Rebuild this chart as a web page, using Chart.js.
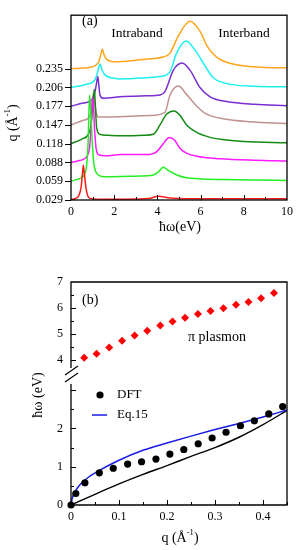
<!DOCTYPE html>
<html>
<head>
<meta charset="utf-8">
<script src="https://cdn.jsdelivr.net/npm/chart.js@4.4.0/dist/chart.umd.min.js"></script>
<style>
html, body { margin: 0; padding: 0; background: #fff; }
#wrap { position: relative; width: 299px; height: 550px; overflow: hidden; }
.box { position: absolute; left: 0; width: 299px; }
</style>
</head>
<body>
<div id="wrap">
  <div class="box" style="top:0;height:250px"><canvas id="c1" width="299" height="250"></canvas></div>
  <div class="box" style="top:250px;height:300px"><canvas id="c2" width="299" height="300"></canvas></div>
</div>
<script>
// ---- panel (a): loss spectra, one per q, stacked ----
var qLabels = ['0.029', '0.059', '0.088', '0.118', '0.147', '0.177', '0.206', '0.235'];
var curveColors = ['#ff1a1a', '#22ee22', '#ff1aff', '#138a13', '#c09290', '#7a2ed0', '#1ef0f0', '#ffa41c'];

// [energy eV, intensity above the curve's own baseline]
var spec029 = [[0,0.02],[0.2,0.08],[0.37,0.25],[0.47,0.7],[0.53,1.4],[0.57,1.85],[0.62,1.4],[0.69,0.67],[0.8,0.17],[1.0,0.06],[2,0.04],[3,0.05],[3.6,0.08],[4.05,0.2],[4.5,0.12],[5,0.08],[6,0.06],[8,0.06],[10,0.07]];
var spec059 = [[0,0],[0.3,0.1],[0.5,0.2],[0.62,0.35],[0.72,0.8],[0.79,2.0],[0.86,4.6],[0.92,3.6],[0.98,2.2],[1.05,1.0],[1.15,0.5],[1.3,0.3],[1.6,0.24],[2.3,0.25],[3.0,0.27],[3.8,0.33],[4.05,0.5],[4.27,0.75],[4.5,0.58],[4.9,0.33],[5.35,0.18],[6.1,0.12],[7,0.09],[8.5,0.06],[10,0.04]];
var spec088 = [[0,0],[0.3,0.08],[0.57,0.17],[0.75,0.35],[0.87,0.9],[0.94,2.2],[1.0,3.5],[1.05,2.8],[1.1,1.6],[1.17,0.7],[1.3,0.4],[1.6,0.36],[2.3,0.42],[3.5,0.42],[3.97,0.58],[4.27,1.0],[4.55,1.33],[4.81,1.17],[5.05,0.75],[5.35,0.5],[5.82,0.33],[6.9,0.2],[8.5,0.12],[10,0.08]];
var spec118 = [[0,0],[0.5,0.25],[0.8,0.5],[0.93,1.0],[1.02,2.2],[1.08,2.9],[1.13,2.0],[1.19,0.83],[1.34,0.5],[1.7,0.45],[2.3,0.42],[3.4,0.45],[3.81,0.5],[4.12,1.0],[4.43,1.58],[4.78,1.75],[5.05,1.5],[5.35,1.0],[5.82,0.6],[6.4,0.35],[7,0.22],[8,0.12],[10,0.05]];
var spec147 = [[0,0],[0.57,0.25],[0.88,0.5],[0.97,1.1],[1.03,1.67],[1.1,1.1],[1.18,0.6],[1.27,0.42],[1.73,0.42],[2.5,0.45],[3.66,0.5],[4.35,0.67],[4.58,1.58],[4.97,2.07],[5.35,1.63],[5.82,1.0],[6.28,0.58],[7.05,0.33],[8.29,0.17],[10,0.08]];
var spec177 = [[0,0],[0.57,0.17],[0.96,0.33],[1.1,0.7],[1.18,1.2],[1.24,1.58],[1.29,1.1],[1.34,0.6],[1.5,0.42],[2.27,0.5],[3.5,0.55],[4.12,0.6],[4.35,0.78],[4.74,1.92],[5.15,2.3],[5.51,1.92],[5.97,1.0],[6.44,0.5],[7.2,0.25],[8.5,0.1],[10,0.03]];
var spec206 = [[0,0],[0.72,0.17],[1.11,0.42],[1.25,0.9],[1.34,1.25],[1.45,0.9],[1.57,0.67],[1.96,0.5],[2.27,0.45],[3.5,0.52],[4.12,0.58],[4.58,0.83],[4.89,1.83],[5.32,2.47],[5.74,2.0],[6.28,1.0],[6.6,0.5],[7.5,0.15],[8.5,0.06],[10,0.03]];
var spec235 = [[0,0],[0.88,0.08],[1.27,0.33],[1.38,0.75],[1.45,1.03],[1.53,0.75],[1.65,0.5],[2.11,0.37],[3.0,0.45],[3.66,0.53],[4.27,0.62],[4.58,0.83],[4.97,1.75],[5.51,2.53],[5.97,2.0],[6.3,1.2],[6.75,0.6],[7.5,0.25],[8.75,0.08],[10,0.05]];
var spectra = [spec029, spec059, spec088, spec118, spec147, spec177, spec206, spec235];

// ---- panel (b): dispersion ----
var dftQ = [0, 0.010, 0.029, 0.059, 0.088, 0.118, 0.147, 0.177, 0.206, 0.235, 0.265, 0.294, 0.323, 0.353, 0.382, 0.412, 0.441];
var dftE = [0, 0.30, 0.58, 0.84, 0.96, 1.07, 1.13, 1.20, 1.33, 1.45, 1.60, 1.75, 1.90, 2.07, 2.20, 2.38, 2.57];
var piQ = [0.0275, 0.0532, 0.0795, 0.1064, 0.1326, 0.1589, 0.186, 0.2114, 0.2376, 0.2645, 0.2907, 0.3176, 0.3438, 0.3698, 0.3959, 0.4229];
var piE = [4.07, 4.23, 4.47, 4.73, 4.93, 5.12, 5.32, 5.47, 5.62, 5.76, 5.88, 5.99, 6.12, 6.23, 6.37, 6.58];
var eqQ = [0, 0.002, 0.005, 0.01, 0.02, 0.04, 0.06, 0.1, 0.15, 0.2, 0.25, 0.3, 0.35, 0.4, 0.45];
var eqE = [0, 0.15, 0.26, 0.38, 0.55, 0.76, 0.91, 1.17, 1.43, 1.62, 1.8, 1.97, 2.13, 2.3, 2.48];
var lineQ = [0, 0.05, 0.1, 0.15, 0.2, 0.25, 0.3, 0.35, 0.4, 0.45];
var lineE = [0, 0.28, 0.55, 0.8, 1.03, 1.27, 1.5, 1.77, 2.1, 2.47];
var xTicksB = [0, 0.1, 0.2, 0.3, 0.4];
var yTicksLow = [0, 1, 2];
var yTicksHigh = [4, 5, 6, 7];
var yBreak = 3.37;

var SERIF = '"Liberation Serif", "Times New Roman", serif';

function pairs(xs, ys) {
    return xs.map(function(x, i) { return {x: x, y: ys[i]}; });
}

function seg(ctx, x1, y1, x2, y2) {
    ctx.beginPath();
    ctx.moveTo(x1, y1);
    ctx.lineTo(x2, y2);
    ctx.stroke();
}

// text with superscript parts: [[text, isSup], ...]
function richText(ctx, parts, x, y, size, align) {
    var w = 0;
    parts.forEach(function(p) {
        ctx.font = (p[1] ? size * 0.62 : size) + 'px ' + SERIF;
        w += ctx.measureText(p[0]).width;
    });
    var cx = align === 'center' ? x - w / 2 : x;
    ctx.textAlign = 'left';
    ctx.textBaseline = 'middle';
    parts.forEach(function(p) {
        ctx.font = (p[1] ? size * 0.62 : size) + 'px ' + SERIF;
        ctx.fillText(p[0], cx, p[1] ? y - size * 0.38 : y);
        cx += ctx.measureText(p[0]).width;
    });
}

var tickFont = {family: SERIF, size: 12};

var panelA = {
    id: 'panelA',
    afterDraw: function(chart) {
        var ctx = chart.ctx, a = chart.chartArea;
        var xs = chart.scales.x, ys = chart.scales.y;
        ctx.save();
        ctx.strokeStyle = '#000';
        ctx.lineWidth = 1.3;
        ctx.strokeRect(a.left, a.top, a.right - a.left, a.bottom - a.top);
        ctx.lineWidth = 1;
        for (var v = 1; v < 10; v++) {
            var px = Math.round(xs.getPixelForValue(v)) + 0.5;
            seg(ctx, px, a.bottom, px, a.bottom - (v % 2 === 0 ? 5 : 3));
        }
        for (var i = 0; i < qLabels.length; i++) {
            var py = Math.round(ys.getPixelForValue(i)) + 0.5;
            seg(ctx, a.left - 6, py, a.left, py);
        }
        ctx.fillStyle = '#000';
        richText(ctx, [['(a)', false]], 82, 21, 14, 'left');
        richText(ctx, [['Intraband', false]], 137, 33, 13.5, 'center');
        richText(ctx, [['Interband', false]], 244, 33, 13.5, 'center');
        richText(ctx, [['\u0127\u03c9(eV)', false]], 180, 227, 14, 'center');
        ctx.translate(13, 123);
        ctx.rotate(-Math.PI / 2);
        richText(ctx, [['q (\u00c5', false], ['-1', true], [')', false]], 0, 0, 14, 'center');
        ctx.restore();
    }
};

var specSets = spectra.map(function(s, i) {
    return {
        data: s.map(function(p) { return {x: p[0], y: p[1] + i}; }),
        borderColor: curveColors[i],
        borderWidth: 1.5,
        pointRadius: 0,
        cubicInterpolationMode: 'monotone',
        fill: false
    };
});

new Chart(document.getElementById('c1'), {
    type: 'line',
    data: {datasets: specSets},
    options: {
        responsive: false,
        animation: false,
        layout: {padding: {left: 0, right: 12, top: 3, bottom: 0}},
        plugins: {legend: {display: false}, tooltip: {enabled: false}},
        scales: {
            x: {
                type: 'linear', min: 0, max: 10,
                grid: {display: false, drawTicks: false},
                border: {display: false},
                ticks: {stepSize: 2, font: tickFont, color: '#000', padding: 5, maxRotation: 0},
                afterFit: function(s) { s.height = 50; }
            },
            y: {
                type: 'linear', min: 0, max: 9.85,
                grid: {display: false, drawTicks: false},
                border: {display: false},
                afterBuildTicks: function(s) { s.ticks = qLabels.map(function(q, i) { return {value: i}; }); },
                ticks: {font: tickFont, color: '#000', padding: 8, callback: function(v) { return qLabels[v]; }},
                afterFit: function(s) { s.width = 71; }
            }
        }
    },
    plugins: [panelA]
});

var panelB = {
    id: 'panelB',
    afterDraw: function(chart) {
        var ctx = chart.ctx, a = chart.chartArea;
        var xs = chart.scales.x, lo = chart.scales.y, hi = chart.scales.y2;
        var yb = lo.getPixelForValue(yBreak);
        ctx.save();
        ctx.strokeStyle = '#000';
        ctx.lineWidth = 1.3;
        ctx.beginPath();
        ctx.moveTo(a.left, yb - 8);
        ctx.lineTo(a.left, a.top);
        ctx.lineTo(a.right, a.top);
        ctx.lineTo(a.right, a.bottom);
        ctx.lineTo(a.left, a.bottom);
        ctx.lineTo(a.left, yb + 8);
        ctx.stroke();
        ctx.lineWidth = 1.2;
        seg(ctx, a.left - 6, yb - 1, a.left + 7, yb - 10);
        seg(ctx, a.left - 6, yb + 6, a.left + 7, yb - 3);
        ctx.lineWidth = 1;
        for (var v = 0.05; v < 0.45; v += 0.05) {
            var px = Math.round(xs.getPixelForValue(v)) + 0.5;
            var major = Math.abs(v * 10 - Math.round(v * 10)) < 0.01;
            seg(ctx, px, a.bottom, px, a.bottom - (major ? 5 : 3));
        }
        for (var t = 0.5; t < yBreak - 0.2; t += 0.5) {
            var py = Math.round(lo.getPixelForValue(t)) + 0.5;
            seg(ctx, a.left, py, a.left + (t % 1 === 0 ? 5 : 3), py);
        }
        for (var u = 4; u < 7; u += 0.5) {
            var py2 = Math.round(hi.getPixelForValue(u)) + 0.5;
            seg(ctx, a.left, py2, a.left + (u % 1 === 0 ? 5 : 3), py2);
        }
        ctx.fillStyle = '#000';
        richText(ctx, [['(b)', false]], 82, 50, 14, 'left');
        richText(ctx, [['\u03c0 plasmon', false]], 217, 87, 14, 'center');
        ctx.beginPath();
        ctx.arc(100, 145, 3.6, 0, Math.PI * 2);
        ctx.fill();
        richText(ctx, [['DFT', false]], 117, 145, 13, 'left');
        ctx.strokeStyle = '#1a1ae6';
        ctx.lineWidth = 1.5;
        seg(ctx, 92, 165, 107, 165);
        richText(ctx, [['Eq.15', false]], 117, 165, 13, 'left');
        richText(ctx, [['q (\u00c5', false], ['-1', true], [')', false]], 180, 288, 14, 'center');
        ctx.translate(38, 145);
        ctx.rotate(-Math.PI / 2);
        richText(ctx, [['\u0127\u03c9 (eV)', false]], 0, 0, 14, 'center');
        ctx.restore();
    }
};

new Chart(document.getElementById('c2'), {
    type: 'line',
    data: {
        datasets: [
            {data: pairs(dftQ, dftE), yAxisID: 'y', showLine: false, pointRadius: 3.6, pointBackgroundColor: '#000', pointBorderWidth: 0, clip: false, order: 0},
            {data: pairs(piQ, piE), yAxisID: 'y2', showLine: false, pointStyle: 'rectRot', pointRadius: 4, pointBackgroundColor: '#ff0000', pointBorderWidth: 0, clip: false, order: 0},
            {data: pairs(eqQ, eqE), yAxisID: 'y', borderColor: '#1a1ae6', borderWidth: 1.5, pointRadius: 0, cubicInterpolationMode: 'monotone', order: 1},
            {data: pairs(lineQ, lineE), yAxisID: 'y', borderColor: '#000', borderWidth: 1.4, pointRadius: 0, cubicInterpolationMode: 'monotone', order: 1}
        ]
    },
    options: {
        responsive: false,
        animation: false,
        layout: {padding: {left: 0, right: 12, top: 32, bottom: 0}},
        plugins: {legend: {display: false}, tooltip: {enabled: false}},
        scales: {
            x: {
                type: 'linear', min: 0, max: 0.45,
                grid: {display: false, drawTicks: false},
                border: {display: false},
                afterBuildTicks: function(s) { s.ticks = xTicksB.map(function(v) { return {value: v}; }); },
                ticks: {font: tickFont, color: '#000', padding: 5, maxRotation: 0,
                        callback: function(v) { return v === 0 ? '0' : v.toFixed(1); }},
                afterFit: function(s) { s.height = 45; }
            },
            y: {
                type: 'linear', position: 'left', stack: 'e', stackWeight: 129, min: 0, max: yBreak,
                grid: {display: false, drawTicks: false},
                border: {display: false},
                afterBuildTicks: function(s) { s.ticks = yTicksLow.map(function(v) { return {value: v}; }); },
                ticks: {font: tickFont, color: '#000', padding: 8},
                afterFit: function(s) { s.width = 71; }
            },
            y2: {
                type: 'linear', position: 'left', stack: 'e', stackWeight: 94, min: yBreak, max: 7,
                grid: {display: false, drawTicks: false},
                border: {display: false},
                afterBuildTicks: function(s) { s.ticks = yTicksHigh.map(function(v) { return {value: v}; }); },
                ticks: {font: tickFont, color: '#000', padding: 8},
                afterFit: function(s) { s.width = 71; }
            }
        }
    },
    plugins: [panelB]
});
</script>
</body>
</html>
